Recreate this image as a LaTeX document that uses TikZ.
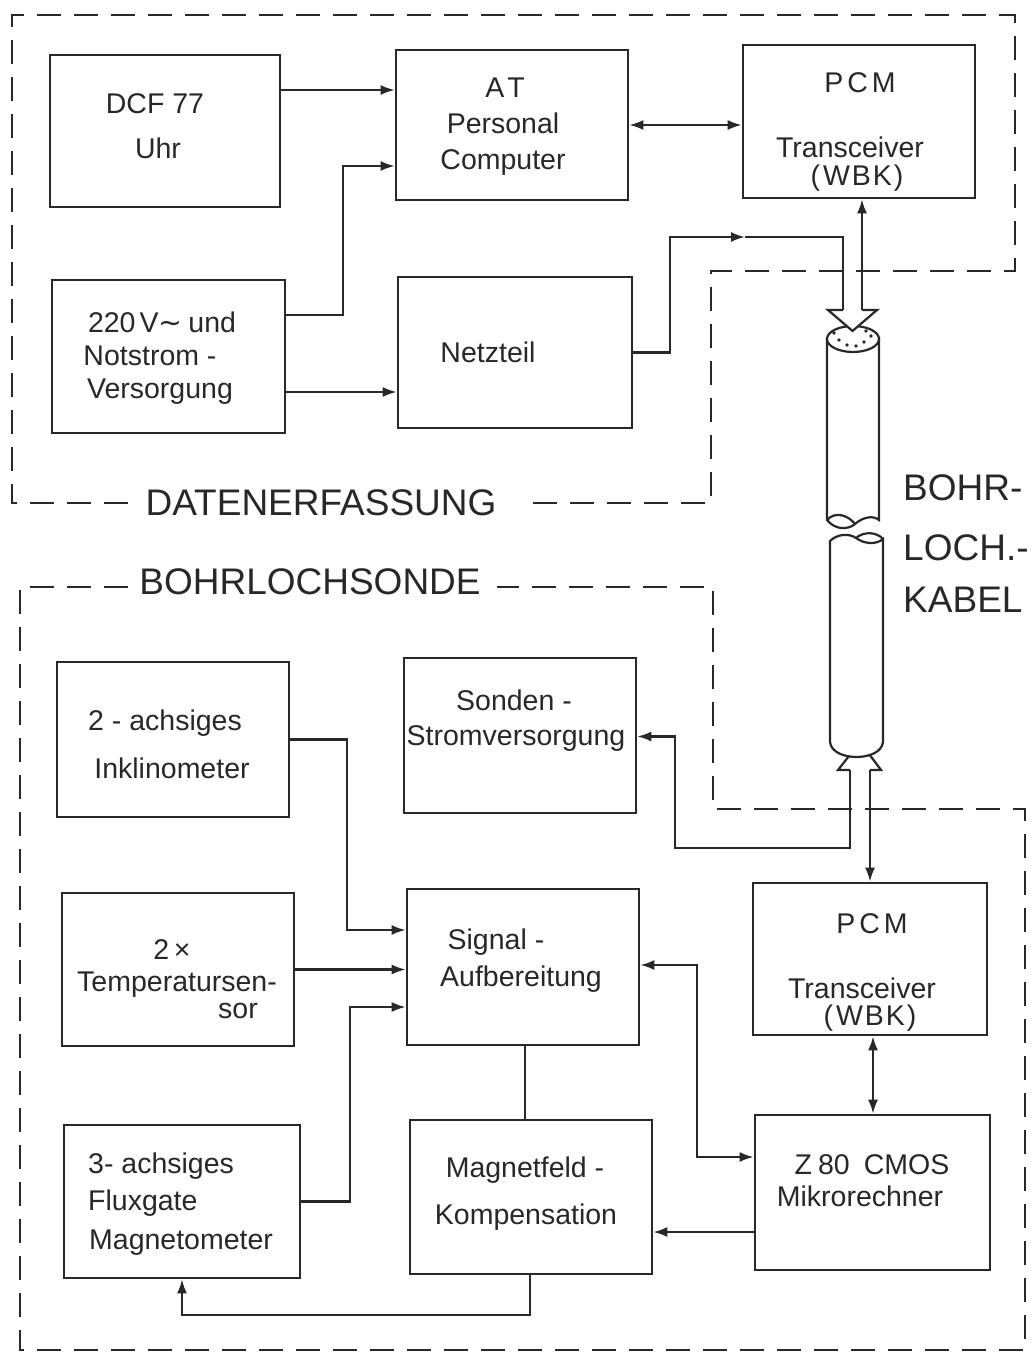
\documentclass[tikz,border=0pt]{standalone}
\usepackage{fontspec}
\setmainfont{Liberation Sans}
\newfontfamily\dejavu{DejaVu Sans}
\usetikzlibrary{arrows.meta}
\definecolor{ink}{RGB}{40,40,40}
\tikzset{
  blk/.style={draw=ink, line width=2.6pt, inner sep=0pt},
  conn/.style={draw=ink, line width=2.2pt},
  arr/.style={conn, -{Latex[length=14pt,width=10pt]}},
  barr/.style={conn, {Latex[length=14pt,width=10pt]}-{Latex[length=14pt,width=10pt]}},
  frame/.style={draw=ink, line width=2pt, dash pattern=on 24pt off 13pt},
  txt/.style={text=ink, font=\fontsize{28.5}{32}\selectfont, inner sep=0pt},
  big/.style={text=ink, font=\fontsize{37}{42}\selectfont, inner sep=0pt},
  tube/.style={draw=ink, line width=2.2pt, fill=white},
}
\begin{document}
\begin{tikzpicture}[x=1pt,y=-1pt]
\useasboundingbox[fill=white] (0,0) rectangle (1030,1356);

% ---------- frames ----------
\draw[frame] (128,503) -- (12,503) -- (12,15) -- (1015,15) -- (1015,271) -- (711,271) -- (711,503) -- (530,503);
\node[big] (lab-daten) at (321,503) {DATENERFASSUNG};
\draw[frame] (128,587) -- (20,587) -- (20,1350) -- (1025,1350) -- (1025,809) -- (713,809) -- (713,587) -- (497,587);
\node[big] (lab-sonde) at (310,582) {BOHRLOCHSONDE};

% ---------- boxes ----------
\node[blk, minimum width=230pt, minimum height=152pt] (dcf)   at (165,131) {};
\node[blk, minimum width=232pt, minimum height=150pt] (at)    at (512,125) {};
\node[blk, minimum width=232pt, minimum height=153pt] (pcm1)  at (859,121.5) {};
\node[blk, minimum width=233pt, minimum height=153pt] (v220)  at (168.5,356.5) {};
\node[blk, minimum width=234pt, minimum height=151pt] (netz)  at (515,352.5) {};
\node[blk, minimum width=232pt, minimum height=155pt] (sond)  at (520,735.5) {};
\node[blk, minimum width=232pt, minimum height=155pt] (inkl)  at (173,739.5) {};
\node[blk, minimum width=232pt, minimum height=153pt] (temp)  at (178,969.5) {};
\node[blk, minimum width=232pt, minimum height=156pt] (sig)   at (523,967) {};
\node[blk, minimum width=234pt, minimum height=152pt] (pcm2)  at (870,959) {};
\node[blk, minimum width=236pt, minimum height=153pt] (flux)  at (182,1201.5) {};
\node[blk, minimum width=242pt, minimum height=154pt] (mag)   at (531,1197) {};
\node[blk, minimum width=235pt, minimum height=155pt] (z80)   at (872.5,1192.5) {};

% ---------- texts ----------
\node[txt] (t-dcf1) at (155,104) {DCF 77};
\node[txt] (t-dcf2) at (158,148) {Uhr};
\node[txt] (t-at1) at (505,88) {A\hspace{3pt}T};
\node[txt] (t-at2) at (503,123) {Personal};
\node[txt] (t-at3) at (503,163) {Computer};
\node[txt] (t-p11) at (860,83) {P\hspace{4pt}C\hspace{4pt}M};
\node[txt] (t-p12) at (850,147) {Transceiver};
\node[txt] (t-p13) at (857,178) {(\hspace{3pt}W\hspace{2pt}B\hspace{2pt}K\hspace{2pt})};
\node[txt] (t-v1) at (162,322) {220\hspace{4pt}V{\dejavu ∼}\hspace{6pt}und};
\node[txt] (t-v2) at (150,356) {Notstrom -};
\node[txt] (t-v3) at (160,392) {Versorgung};
\node[txt] (t-netz) at (488,352) {Netzteil};
\node[txt] (t-s1) at (514,700) {Sonden -};
\node[txt] (t-s2) at (516,738) {Stromversorgung};
\node[txt] (t-i1) at (165,723) {2 - achsiges};
\node[txt] (t-i2) at (172,768) {Inklinometer};
\node[txt] (t-t1) at (172,950) {2\,×};
\node[txt] (t-t2) at (177,985) {Temperatursen-};
\node[txt] (t-t3) at (238,1011) {sor};
\node[txt] (t-g1) at (496,942) {Signal\hspace{8pt}-};
\node[txt] (t-g2) at (521,979) {Aufbereitung};
\node[txt] (t-p21) at (872,924) {P\hspace{4pt}C\hspace{4pt}M};
\node[txt] (t-p22) at (862,988) {Transceiver};
\node[txt] (t-p23) at (870,1018) {(\hspace{3pt}W\hspace{2pt}B\hspace{2pt}K\hspace{2pt})};
\node[txt, anchor=west] (t-f1) at (88,1166) {3- achsiges};
\node[txt, anchor=west] (t-f2) at (88,1203) {Fluxgate};
\node[txt, anchor=west] (t-f3) at (89,1243) {Magnetometer};
\node[txt] (t-m1) at (525,1170) {Magnetfeld -};
\node[txt] (t-m2) at (526,1217) {Kompensation};
\node[txt] (t-z1) at (872,1165) {Z\hspace{6pt}80\hspace{14pt}CMOS};
\node[txt] (t-z2) at (860,1196) {Mikrorechner};

\node[big, anchor=west] (t-k1) at (903,488) {BOHR-};
\node[big, anchor=west] (t-k2) at (903,548) {LOCH.-};
\node[big, anchor=west] (t-k3) at (903,600) {KABEL};

% ---------- cable ----------
\coordinate (ctopL) at (843,310);
\coordinate (ctopR) at (862,310);
\coordinate (cbotL) at (850,770);
\coordinate (cbotR) at (870,770);
% lower hollow arrow (behind the tube)
\filldraw[conn, fill=white] (cbotL) -- (838,770) -- (860,742) -- (881,770) -- (cbotR);
% upper piece
\filldraw[tube] (827,339) -- (827,520) .. controls (835,530) and (848,530) .. (855,524)
   .. controls (863,517) and (873,515) .. (879,520) -- (879,339) -- cycle;
\draw[conn] (827,520) .. controls (835,511) and (848,515) .. (855,524);
\filldraw[tube] (853,339) ellipse [x radius=26, y radius=13];
\foreach \p in {(834,333),(839,340),(847,345),(856,346),(864,342),(871,336),(866,331)}
  \fill[ink] \p circle (1.8);
% lower piece
\filldraw[tube] (830,541) .. controls (837,534) and (849,533) .. (856,538)
   .. controls (864,544) and (876,545) .. (883,539) -- (883,742)
   .. controls (881,762) and (832,762) .. (830,742) -- cycle;
\draw[conn] (856,538) .. controls (864,531) and (877,532) .. (883,539);
% upper hollow arrow (in front of the tube end)
\fill[white] (ctopL) -- (828,310) -- (852.5,331) -- (877,310) -- (ctopR) -- cycle;
\draw[conn] (ctopL) -- (828,310) -- (852.5,331) -- (877,310) -- (ctopR);

% ---------- connectors: Datenerfassung ----------
\draw[arr] ([yshift=41pt]dcf.east) -- ([yshift=41pt]dcf.east -| at.west);
\draw[arr] ([yshift=41.5pt]v220.east) -- (343,315) |- ([yshift=-41pt]at.west);
\draw[arr] ([yshift=-35.5pt]v220.east) -- ([yshift=-35.5pt]v220.east -| netz.west);
\draw[barr] (at.east) -- (at.east -| pcm1.west);
\coordinate (nmid) at (745,237);
\draw[arr] (netz.east) -- (670,352.5) |- (nmid);
\draw[conn] (nmid) -| (ctopL);
\draw[arr] (ctopR) -- (ctopR |- pcm1.south);

% ---------- connectors: Bohrlochsonde ----------
\draw[arr] (cbotL) |- (675,848) |- ([yshift=-1pt]sond.east);
\draw[arr] (cbotR) -- (cbotR |- pcm2.north);
\draw[arr] (inkl.east) -- (347,739.5) |- ([yshift=37pt]sig.west);
\draw[arr] ([yshift=0pt]temp.east) -- (temp.east -| sig.west);
\draw[arr] (flux.east) -- (350,1201.5) |- ([yshift=-40pt]sig.west);
\draw[conn] (525,1045) -- (525,1120);
\draw[barr] ([yshift=2pt]sig.east) -- (697,965) |- ([yshift=35.5pt]z80.west);
\draw[barr] ([xshift=3pt]pcm2.south) -- ([xshift=3pt]pcm2.south |- z80.north);
\draw[arr] ([yshift=-39.5pt]z80.west) -- ([yshift=-39.5pt]z80.west -| mag.east);
\draw[arr] ([xshift=-1pt]mag.south) |- (182,1315) -- (flux.south);
\end{tikzpicture}
\end{document}
